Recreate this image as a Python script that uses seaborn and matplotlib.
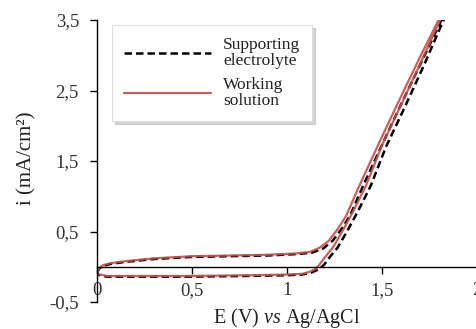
import matplotlib
matplotlib.use("Agg")
import matplotlib.pyplot as plt
import seaborn as sns
import pandas as pd

# Cyclic voltammograms (E in V vs Ag/AgCl, i in mA/cm2), forward branch then back
E_work = [0.0, 0.01, 0.03, 0.07, 0.15, 0.3, 0.5, 0.7, 0.9, 1.05, 1.12, 1.17, 1.22, 1.27,
          1.31, 1.38, 1.5, 1.6, 1.7, 1.8, 1.84,
          1.84, 1.8, 1.7, 1.6, 1.5, 1.415, 1.35, 1.29, 1.24, 1.2, 1.17, 1.15, 1.12, 1.08,
          1.0, 0.8, 0.5, 0.2, 0.05, 0.0]
i_work = [-0.08, -0.02, 0.02, 0.05, 0.08, 0.12, 0.15, 0.16, 0.17, 0.19, 0.21, 0.27, 0.37, 0.55,
          0.72, 1.15, 1.85, 2.42, 2.98, 3.52, 3.75,
          3.7, 3.47, 2.88, 2.3, 1.73, 1.15, 0.8, 0.5, 0.27, 0.14, 0.03, -0.03, -0.07, -0.1,
          -0.11, -0.12, -0.13, -0.13, -0.13, -0.1]

E_supp = [0.0, 0.01, 0.03, 0.07, 0.15, 0.3, 0.5, 0.7, 0.9, 1.05, 1.13, 1.19, 1.24, 1.29,
          1.33, 1.4, 1.52, 1.62, 1.72, 1.815, 1.85,
          1.85, 1.815, 1.72, 1.62, 1.52, 1.44, 1.375, 1.315, 1.265, 1.225, 1.195, 1.17, 1.13,
          1.08, 1.0, 0.8, 0.5, 0.2, 0.05, 0.0]
i_supp = [-0.09, -0.03, 0.01, 0.04, 0.07, 0.11, 0.14, 0.15, 0.16, 0.18, 0.2, 0.26, 0.37, 0.55,
          0.72, 1.15, 1.85, 2.42, 2.98, 3.52, 3.72,
          3.65, 3.45, 2.86, 2.27, 1.7, 1.15, 0.8, 0.5, 0.27, 0.14, 0.03, -0.03, -0.08,
          -0.11, -0.12, -0.13, -0.14, -0.14, -0.14, -0.11]

x_ticks = [0, 0.5, 1, 1.5, 2]
x_labels = ["0", "0,5", "1", "1,5", "2"]
y_ticks = [-0.5, 0.5, 1.5, 2.5, 3.5]
y_labels = ["-0,5", "0,5", "1,5", "2,5", "3,5"]

sns.set_style("ticks")
plt.rcParams["font.family"] = ["Liberation Serif", "DejaVu Serif"]
plt.rcParams["mathtext.fontset"] = "custom"
plt.rcParams["mathtext.rm"] = "Liberation Serif"
plt.rcParams["mathtext.it"] = "Liberation Serif:italic"

supp = pd.DataFrame({"E": E_supp, "i": i_supp})
work = pd.DataFrame({"E": E_work, "i": i_work})

fig = plt.figure(figsize=(4.77, 3.29), dpi=100)
ax = fig.add_axes([0.2034, 0.082, 0.797, 0.857])

sns.lineplot(data=supp, x="E", y="i", sort=False, estimator=None, ax=ax,
             color="black", linestyle=(0, (3, 1.6)), linewidth=1.8,
             label="Supporting\nelectrolyte")
sns.lineplot(data=work, x="E", y="i", sort=False, estimator=None, ax=ax,
             color="#C0504D", linewidth=1.6, alpha=0.9,
             label="Working\nsolution")

ax.set_xlim(0, 2)
ax.set_ylim(-0.5, 3.5)
ax.set_xticks(x_ticks, x_labels)
ax.set_yticks(y_ticks, y_labels)
ax.spines["bottom"].set_position(("data", 0))
ax.spines["top"].set_visible(False)
ax.spines["right"].set_visible(False)
for s in ["left", "bottom"]:
    ax.spines[s].set_linewidth(1.0)
    ax.spines[s].set_color("black")
ax.tick_params(axis="x", direction="out", length=5, width=1, pad=6,
               labelsize=13.5, colors="black", labelcolor="#333333")
ax.tick_params(axis="y", direction="out", length=5, width=1, pad=8,
               labelsize=13.5, colors="black", labelcolor="#333333")

ax.set_xlabel("E (V) $\\mathit{vs}$ Ag/AgCl", fontsize=14.5, color="#222222")
ax.xaxis.set_label_coords(0.5, -0.015)
ax.set_ylabel("i (mA/cm²)", fontsize=15, color="#222222")
ax.yaxis.set_label_coords(-0.16, 0.51)

leg = ax.legend(loc="upper left", bbox_to_anchor=(0.039, 0.982), borderaxespad=0,
                fontsize=12.5, handlelength=5.0, handletextpad=0.7, borderpad=0.7,
                labelspacing=0.5, frameon=True, fancybox=False,
                shadow={"color": "0.6", "alpha": 0.4, "ox": 2, "oy": -2})
leg.get_frame().set_edgecolor("#dddddd")
leg.get_frame().set_linewidth(0.8)
for t in leg.get_texts():
    t.set_color("#222222")
    t.set_linespacing(0.95)

fig.savefig("out.png", dpi=100)
